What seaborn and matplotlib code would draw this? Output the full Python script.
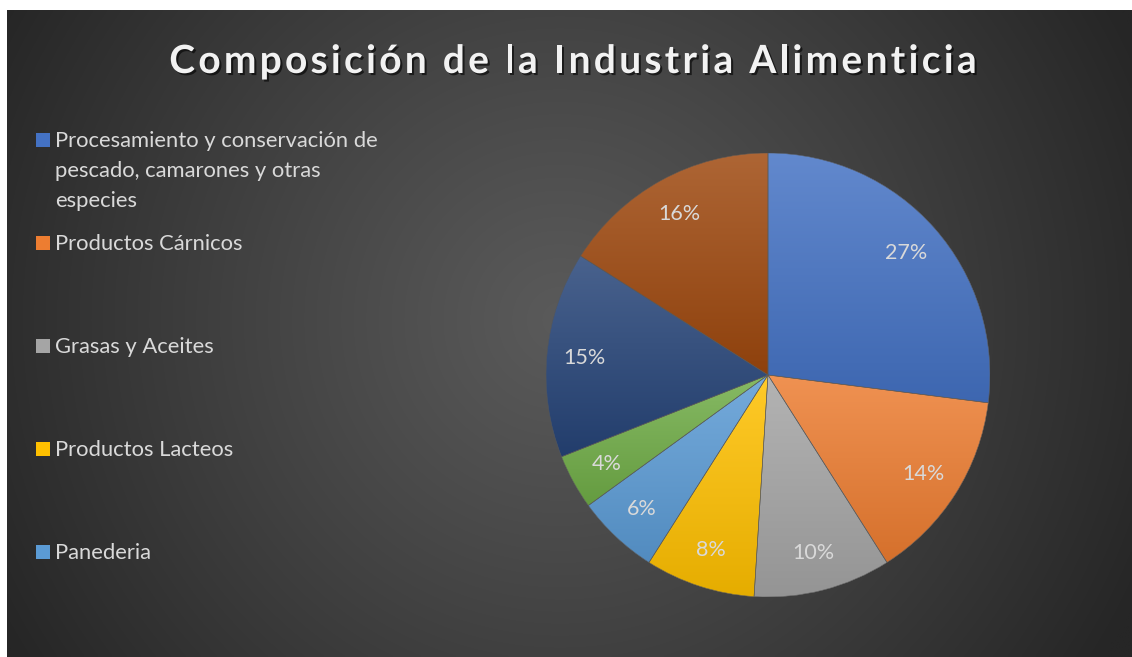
import numpy as np
import matplotlib
matplotlib.use("Agg")
import matplotlib.pyplot as plt
import matplotlib.colors as mcolors
from matplotlib import patheffects
from matplotlib.font_manager import FontProperties
import seaborn as sns

# data
title = "Composición de la Industria Alimenticia"
shares = [27, 14, 10, 8, 6, 4, 15, 16]
# only the first five series are named in the (clipped) legend
legend_labels = ["Procesamiento y conservación de\npescado, camarones y otras\nespecies",
                 "Productos Cárnicos",
                 "Grasas y Aceites",
                 "Productos Lacteos",
                 "Panederia"]
slice_colors = ["#4472C4", "#ED7D31", "#A5A5A5", "#FFC000",
                "#5B9BD5", "#70AD47", "#264478", "#9E480E"]

sns.set_style("dark")
palette = sns.color_palette(slice_colors)
plt.rcParams["font.family"] = ["Lato", "DejaVu Sans"]

W, H = 1132, 657
fig = plt.figure(figsize=(W / 100, H / 100), dpi=100)
fig.patch.set_facecolor("white")

def fx(px):
    return px / W

def fy(py):
    return 1 - py / H

# dark radial background
bg = fig.add_axes([fx(7), 0, fx(W) - fx(7), fy(10)])
bg.set_axis_off()
gx, gy = np.meshgrid(np.linspace(7, W, 400), np.linspace(10, H, 240))
d = np.hypot(gx - 560, gy - 320) / 640
d = np.clip(d, 0, 1) ** 1.1
c0 = np.array(mcolors.to_rgb("#5a5a5a"))
c1 = np.array(mcolors.to_rgb("#262626"))
img = c0[None, None, :] * (1 - d[..., None]) + c1[None, None, :] * d[..., None]
bg.imshow(img, aspect="auto", extent=[0, 1, 0, 1], interpolation="bilinear")
bg.set_xlim(0, 1)
bg.set_ylim(0, 1)

# pie
cx, cy, r = 768, 375, 222
ax = fig.add_axes([fx(cx - r), fy(cy + r), 2 * r / W, 2 * r / H])
ax.set_facecolor("none")
wedges, texts = ax.pie(shares, colors=palette, startangle=90, counterclock=False,
                       radius=1, labels=[f"{v}%" for v in shares], labeldistance=0.83,
                       wedgeprops=dict(edgecolor="none"),
                       textprops=dict(color="#d9d9d9", fontsize=15.5, ha="center", va="center"))
ax.set_aspect("equal")
ax.set_axis_off()

# vertical gradient inside each slice (lighter at the top)
for w, col in zip(wedges, palette):
    base = np.array(col)
    top = base + (1 - base) * 0.16
    bot = base * 0.9
    bb = w.get_path().get_extents(w.get_patch_transform())
    t = np.linspace(0, 1, 128)[:, None]
    grad = top[None, :] * (1 - t) + bot[None, :] * t
    im = ax.imshow(grad[:, None, :], extent=[bb.x0, bb.x1, bb.y0, bb.y1],
                   aspect="auto", zorder=w.get_zorder() + 0.1, interpolation="bilinear")
    im.set_clip_path(w)
    edge = plt.matplotlib.patches.Wedge(w.center, w.r, w.theta1, w.theta2,
                                        facecolor="none", edgecolor="#5a5a5a",
                                        linewidth=0.4, zorder=w.get_zorder() + 0.2)
    ax.add_patch(edge)
for t in texts:
    t.set_zorder(5)
ax.set_xlim(-1.0, 1.0)
ax.set_ylim(-1.0, 1.0)

# title with letter spacing and shadow
renderer = fig.canvas.get_renderer()
tprop = FontProperties(family="Lato", weight="bold", size=28)
spacing = 3.3
n = len(title)
full_w = renderer.get_text_width_height_descent(title, tprop, ismath=False)[0]
total = full_w + (n - 1) * spacing
x_start = 573 - total / 2
for i, ch in enumerate(title):
    off = renderer.get_text_width_height_descent(title[:i], tprop, ismath=False)[0] if i else 0
    fig.text(fx(x_start + off + i * spacing), fy(73), ch, fontproperties=tprop,
             color="#f2f2f2", ha="left", va="baseline",
             path_effects=[patheffects.withSimplePatchShadow(offset=(1.5, -1.5),
                                                             shadow_rgbFace="black", alpha=0.6)])

# legend (Excel-style, drawn by hand)
baselines = [147, 250, 353, 456, 559]
for lab, col, yb in zip(legend_labels, palette, baselines):
    fig.patches.append(plt.Rectangle((fx(36), fy(yb)), 14 / W, 14 / H,
                                     transform=fig.transFigure, facecolor=col,
                                     edgecolor="none"))
    for k, line in enumerate(lab.split("\n")):
        fig.text(fx(55), fy(yb + 30 * k), line, color="#d9d9d9", fontsize=15.8,
                 ha="left", va="baseline")

fig.savefig("out.png", dpi=100, facecolor="white")
